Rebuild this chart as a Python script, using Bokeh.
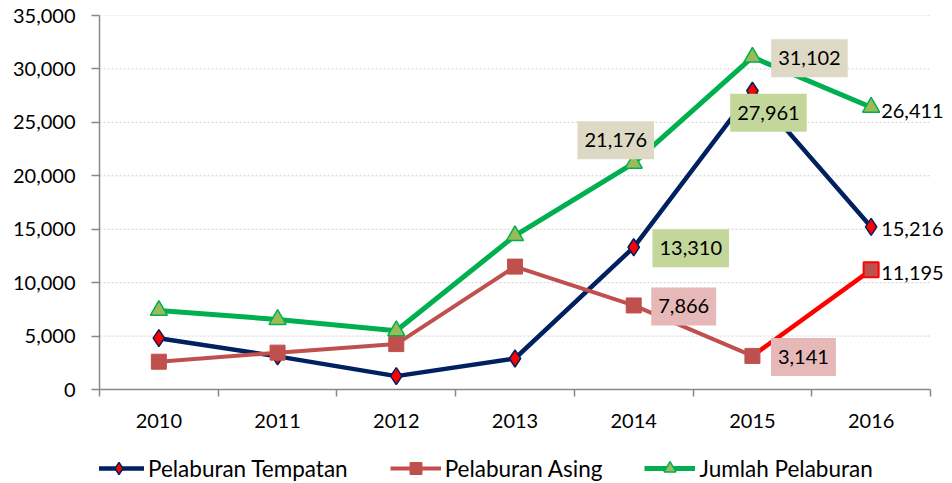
from bokeh.plotting import figure
from bokeh.layouts import column
from bokeh.models import (Range1d, FixedTicker, NumeralTickFormatter, Label,
                          Legend, LegendItem)
from bokeh.embed import file_html
from bokeh.resources import INLINE

years = ["2010", "2011", "2012", "2013", "2014", "2015", "2016"]
tempatan = [4800, 3100, 1250, 2900, 13310, 27961, 15216]
asing = [2600, 3450, 4250, 11500, 7866, 3141, 11195]
jumlah = [7400, 6550, 5500, 14400, 21176, 31102, 26411]
y_ticks = [0, 5000, 10000, 15000, 20000, 25000, 30000, 35000]
series_names = ["Pelaburan Tempatan", "Pelaburan Asing", "Jumlah Pelaburan"]

FONT = "Lato"
AXIS_COL = "#898989"
NAVY = "#002060"
ASING_COL = "#c0504d"
GREEN = "#00b050"

W = 952
n = len(years)
xs = [i + 0.5 for i in range(n)]
x_end = n * (W - 99) / 831  # room on the right for the end labels

p = figure(width=W, height=448, output_backend="svg", toolbar_location=None,
           x_range=Range1d(0, x_end), y_range=Range1d(0, y_ticks[-1]),
           min_border_left=99, min_border_right=0, min_border_top=15,
           min_border_bottom=59)
p.outline_line_color = None
p.background_fill_color = "white"
p.border_fill_color = "white"

# axes
p.xaxis.ticker = FixedTicker(ticks=xs, minor_ticks=list(range(n + 1)))
p.xaxis.major_label_overrides = {x: y for x, y in zip(xs, years)}
p.xaxis.bounds = (0, n)
p.xaxis.major_tick_line_color = None
p.xaxis.major_tick_out = 7
p.xaxis.major_tick_in = 0
p.xaxis.minor_tick_line_color = AXIS_COL
p.xaxis.minor_tick_out = 7
p.xaxis.minor_tick_in = 0
p.xaxis.minor_tick_line_width = 1.5
p.xaxis.major_label_standoff = 17

p.yaxis.ticker = FixedTicker(ticks=y_ticks)
p.yaxis.formatter = NumeralTickFormatter(format="0,0")
p.yaxis.major_tick_line_color = AXIS_COL
p.yaxis.major_tick_line_width = 1.5
p.yaxis.major_tick_out = 8
p.yaxis.major_tick_in = 0
p.yaxis.minor_tick_line_color = None
p.yaxis.major_label_standoff = 16

for ax in (p.xaxis, p.yaxis):
    ax.axis_line_color = AXIS_COL
    ax.axis_line_width = 1.5
    ax.major_label_text_font = FONT
    ax.major_label_text_font_size = "20px"
    ax.major_label_text_color = "#000000"

p.xgrid.visible = False
p.ygrid.visible = False
# horizontal dotted grid limited to the category span
p.segment(x0=[0] * (len(y_ticks) - 1), y0=y_ticks[1:],
          x1=[n] * (len(y_ticks) - 1), y1=y_ticks[1:],
          line_color="#cfcfcf", line_dash="2 2", line_width=1)

# series styles
ST_T_LINE = dict(line_color=NAVY, line_width=4.5)
ST_T_MARK = dict(marker="diamond", size=17,
                 fill_color="#ff0000", line_color=NAVY, line_width=1.5)
ST_A_LINE = dict(line_color=ASING_COL, line_width=4)
ST_A_MARK = dict(marker="square", size=15, fill_color=ASING_COL,
                 line_color=ASING_COL, line_width=1)
ST_J_LINE = dict(line_color=GREEN, line_width=5)
ST_J_MARK = dict(marker="triangle", size=17, fill_color="#9bbb59",
                 line_color=GREEN, line_width=1.5)

p.line(xs, tempatan, **ST_T_LINE)
p.scatter(xs, tempatan, **ST_T_MARK)

p.line(xs[:6], asing[:6], **ST_A_LINE)
p.line(xs[5:], asing[5:], line_color="#ff0000", line_width=4.5)
p.scatter(xs[:6], asing[:6], **ST_A_MARK)
p.scatter(xs[6:], asing[6:], marker="square", size=15,
          fill_color=ASING_COL, line_color="#ff0000", line_width=2)

p.line(xs, jumlah, **ST_J_LINE)
p.scatter(xs, jumlah, **ST_J_MARK)


def add_label(i, vals, dx, dy, bg=None, align="center"):
    v = vals[i]
    kw = dict(x=xs[i], y=v, x_offset=dx, y_offset=dy, text=f"{v:,}",
              text_align=align, text_baseline="middle", text_font=FONT,
              text_font_size="20px", text_color="#000000")
    if bg is not None:
        kw.update(background_fill_color=bg, padding=(7, 12))
    p.add_layout(Label(**kw))


TAN = "#ddd9c4"
LGREEN = "#c4d79b"
PINK = "#e6b8b7"
add_label(4, jumlah, -18, 23, TAN)
add_label(5, jumlah, 57, -1, TAN)
add_label(6, jumlah, 10, -4, None, "left")
add_label(5, tempatan, 16, -22, LGREEN)
add_label(4, tempatan, 57, -1, LGREEN)
add_label(6, tempatan, 10, -2, None, "left")
add_label(4, asing, 50, -1, PINK)
add_label(5, asing, 51, -1, PINK)
add_label(6, asing, 10, -3, None, "left")

# legend strip below the chart (legend proxies use the series data but sit
# outside this strip's ranges, so only the legend itself shows)
lg = figure(width=W, height=35, output_backend="svg", toolbar_location=None,
            x_range=Range1d(0, 1), y_range=Range1d(0, 1),
            x_axis_location=None, y_axis_location=None,
            min_border_left=0, min_border_right=0, min_border_top=0,
            min_border_bottom=0)
lg.grid.visible = False
lg.outline_line_color = None
lg_items = []
for name, vals, ls, ms in zip(series_names, [tempatan, asing, jumlah],
                              [ST_T_LINE, ST_A_LINE, ST_J_LINE],
                              [ST_T_MARK, ST_A_MARK, ST_J_MARK]):
    r1 = lg.line(xs, vals, **ls)
    r2 = lg.scatter(xs, vals, **ms)
    lg_items.append(LegendItem(label=name, renderers=[r1, r2]))

legend = Legend(items=lg_items, orientation="horizontal", location=(-6, 0),
                background_fill_alpha=0, border_line_color=None, padding=0,
                margin=0, spacing=42, glyph_width=51, glyph_height=30,
                label_standoff=4, label_text_font=FONT,
                label_text_font_size="22.5px", label_text_color="#000000")
lg.add_layout(legend)

layout = column(p, lg, spacing=0)
open("out.html", "w").write(file_html(layout, INLINE))
